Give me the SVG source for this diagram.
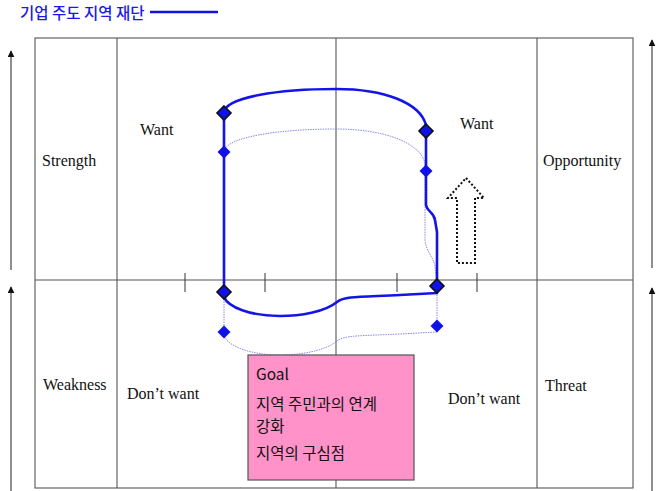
<svg xmlns="http://www.w3.org/2000/svg" width="656" height="491" viewBox="0 0 656 491">
<defs>
<style>
.grid{stroke:#555;stroke-width:1.1;fill:none}
.tick{stroke:#333;stroke-width:1}
.lbl{font-family:"Liberation Serif","Times New Roman",serif;font-size:16px;fill:#111}
.kr{font-family:"Noto Sans CJK KR","Noto Sans",sans-serif;font-size:15.5px;fill:#111}
.ax{stroke:#444;stroke-width:1.2;fill:none}
.solid{fill:none;stroke:#1414e6;stroke-width:2.6;stroke-linejoin:round}
.ghost{fill:none;stroke:#7a7ae0;stroke-width:0.9;stroke-dasharray:1.5,1}
</style>
<marker id="ah" viewBox="0 0 10 10" refX="9" refY="5" markerWidth="7" markerHeight="7" orient="auto" markerUnits="userSpaceOnUse">
<path d="M0,0 L10,5 L0,10 Z" fill="#111"/>
</marker>
<path id="dB" d="M0,-7 L7,0 L0,7 L-7,0 Z" fill="#1010e8" stroke="#111" stroke-width="1.6"/>
<path id="dS" d="M0,-6.5 L6.5,0 L0,6.5 L-6.5,0 Z" fill="#1010e8"/>
</defs>
<rect width="656" height="491" fill="#fff"/>

<g id="legend">
<text x="20" y="19" style="font-family:'Noto Sans CJK KR','Noto Sans',sans-serif;font-size:15.5px;font-weight:500;fill:#1a1ae6">기업 주도 지역 재단</text>
<line x1="150" y1="12" x2="218" y2="12" stroke="#1010e0" stroke-width="2.6"/>
</g>

<g id="axes">
<line class="ax" x1="11" y1="270" x2="11" y2="51" marker-end="url(#ah)"/>
<line class="ax" x1="11" y1="491" x2="11" y2="287" marker-end="url(#ah)"/>
<line class="ax" x1="652" y1="268" x2="652" y2="40" marker-end="url(#ah)"/>
<line class="ax" x1="652" y1="491" x2="652" y2="288" marker-end="url(#ah)"/>
</g>

<g id="grid">
<rect class="grid" x="35" y="38" width="598" height="450"/>
<line class="grid" x1="117" y1="38" x2="117" y2="488"/>
<line class="grid" x1="336" y1="38" x2="336" y2="488"/>
<line class="grid" x1="537" y1="38" x2="537" y2="488"/>
<line class="grid" x1="35" y1="280" x2="633" y2="280"/>
<line class="tick" x1="185" y1="273" x2="185" y2="292"/>
<line class="tick" x1="265" y1="273" x2="265" y2="292"/>
<line class="tick" x1="397" y1="273" x2="397" y2="292"/>
<line class="tick" x1="477" y1="273" x2="477" y2="292"/>
</g>

<g id="labels">
<text class="lbl" x="42" y="166">Strength</text>
<text class="lbl" x="543" y="166">Opportunity</text>
<text class="lbl" x="43" y="390">Weakness</text>
<text class="lbl" x="545" y="391">Threat</text>
<text class="lbl" x="140" y="135">Want</text>
<text class="lbl" x="460" y="129">Want</text>
<text class="lbl" x="127" y="399">Don’t want</text>
<text class="lbl" x="448" y="404">Don’t want</text>
</g>

<g id="connectors">
<path class="ghost" d="M224,152 C224,137 280,129 336,129 C385,129 420,143 425,163 L425,240 C426,252 433,256 435,266 L437,285 L437,332 L400,334 C360,336 345,335 337,341 C325,351 300,355 280,355 C250,355 228,346 224,336 Z"/>
<path class="solid" d="M224,113 C224,97 280,89 336,89 C385,89 420,103 426,125 L426,205 C427,212 434,212 435,220 L437,232 L437,293 L400,295 C360,297 345,296 337,302 C325,312 300,316 280,316 C250,316 228,307 224,297 Z"/>
</g>

<g id="markers">
<use href="#dB" x="224" y="113"/>
<use href="#dB" x="426" y="131"/>
<use href="#dB" x="224" y="292"/>
<use href="#dB" x="437" y="286"/>
<use href="#dS" x="224" y="152"/>
<use href="#dS" x="426" y="171"/>
<use href="#dS" x="224" y="332"/>
<use href="#dS" x="437" y="326"/>
</g>

<g id="up-arrow">
<polygon points="466,178 484,198 475,198 475,263 457,263 457,198 448,198" fill="none" stroke="#111" stroke-width="2" stroke-dasharray="2,2"/>
</g>

<g id="goal">
<rect x="248" y="355" width="166" height="125" fill="#ff92c9" stroke="#555" stroke-width="1.2"/>
<text class="kr" x="256" y="380">Goal</text>
<text class="kr" x="256" y="410">지역 주민과의 연계</text>
<text class="kr" x="256" y="432">강화</text>
<text class="kr" x="256" y="459">지역의 구심점</text>
</g>
</svg>
